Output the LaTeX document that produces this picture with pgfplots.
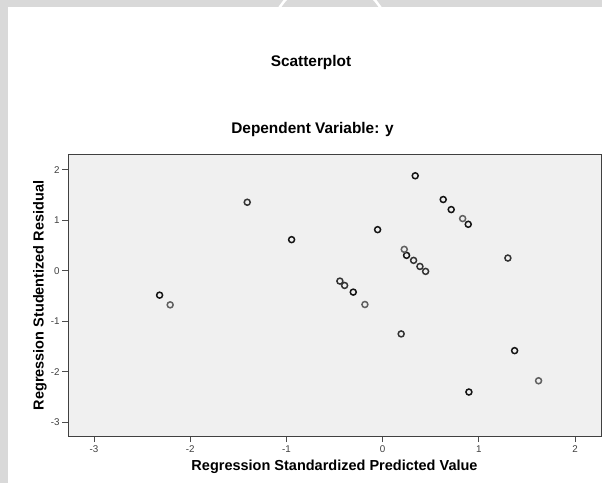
\documentclass[border=0pt]{standalone}
\usepackage{pgfplots}
\pgfplotsset{compat=1.18}
\usepackage{fontspec}
\setmainfont{Liberation Sans}
\definecolor{outergray}{HTML}{D9D9D9}
\definecolor{plotbg}{HTML}{F0F0F0}
\definecolor{ticktext}{HTML}{404040}
\definecolor{dark}{HTML}{141414}
\definecolor{mid}{HTML}{333333}
\definecolor{light}{HTML}{606060}
\begin{document}
\begin{tikzpicture}[x=1pt,y=1pt]
\path[use as bounding box] (0,0) rectangle (602,483);
\fill[outergray] (0,0) rectangle (602,483);
\draw[white, line width=2.5pt] (330,443) circle (60);
\fill[white] (8,0) rectangle (602,476);
\node[anchor=base, font=\bfseries\fontsize{15.4}{16}\selectfont] at (311,416) {Scatterplot};
\begin{axis}[
  at={(68pt,47pt)}, anchor=south west,
  scale only axis, width=533pt, height=281pt,
  xmin=-3.27, xmax=2.27, ymin=-3.27, ymax=2.29,
  axis background/.style={fill=plotbg},
  axis line style={black!75, line width=1pt},
  xtick={-3,-2,-1,0,1,2}, xticklabels={-3,-2,-1,0,1,2},
  ytick={-3,-2,-1,0,1,2}, yticklabels={-3,-2,-1,0,1,2},
  tick align=outside, major tick length=6pt,
  tick style={black!70, line width=0.8pt},
  xtick pos=bottom, ytick pos=left,
  tick label style={font=\fontsize{9.8}{10}\selectfont, text=ticktext},
  xticklabel style={yshift=0pt},
  yticklabel style={xshift=1pt},
  title={Dependent Variable: y},
  title style={at={(axis description cs:0.4587,1)}, anchor=base, yshift=15.7pt, font=\bfseries\fontsize{15.4}{16}\selectfont},
  xlabel={Regression Standardized Predicted Value},
  ylabel={Regression Studentized Residual},
  xlabel style={at={(axis description cs:0.5,-0.1103)}, anchor=center, font=\bfseries\fontsize{14.5}{15}\selectfont},
  ylabel style={at={(axis description cs:-0.0525,0.5)}, rotate=0, anchor=center, font=\bfseries\fontsize{14.5}{15}\selectfont},
  clip=false,
]
\addplot[only marks, mark=o, mark size=3pt, mark options={line width=1.5pt, draw=dark}] coordinates {
(0.339,1.879) (0.630,1.409) (0.713,1.210) (0.890,0.919) (-0.052,0.813)
(0.249,0.304) (-0.305,-0.423) (-2.318,-0.483) (-0.946,0.615) (0.897,-2.40)
(1.372,-1.581)
};
\addplot[only marks, mark=o, mark size=3pt, mark options={line width=1.5pt, draw=mid}] coordinates {
(0.322,0.205) (0.388,0.085) (0.447,-0.013) (1.302,0.251) (-0.444,-0.205)
(-0.395,-0.291) (0.193,-1.25) (-1.407,1.355)
};
\addplot[only marks, mark=o, mark size=3pt, mark options={line width=1.5pt, draw=light}] coordinates {
(0.832,1.032) (0.225,0.423) (-2.208,-0.675) (-0.184,-0.668) (1.621,-2.177)
};
\end{axis}
\end{tikzpicture}
\end{document}
